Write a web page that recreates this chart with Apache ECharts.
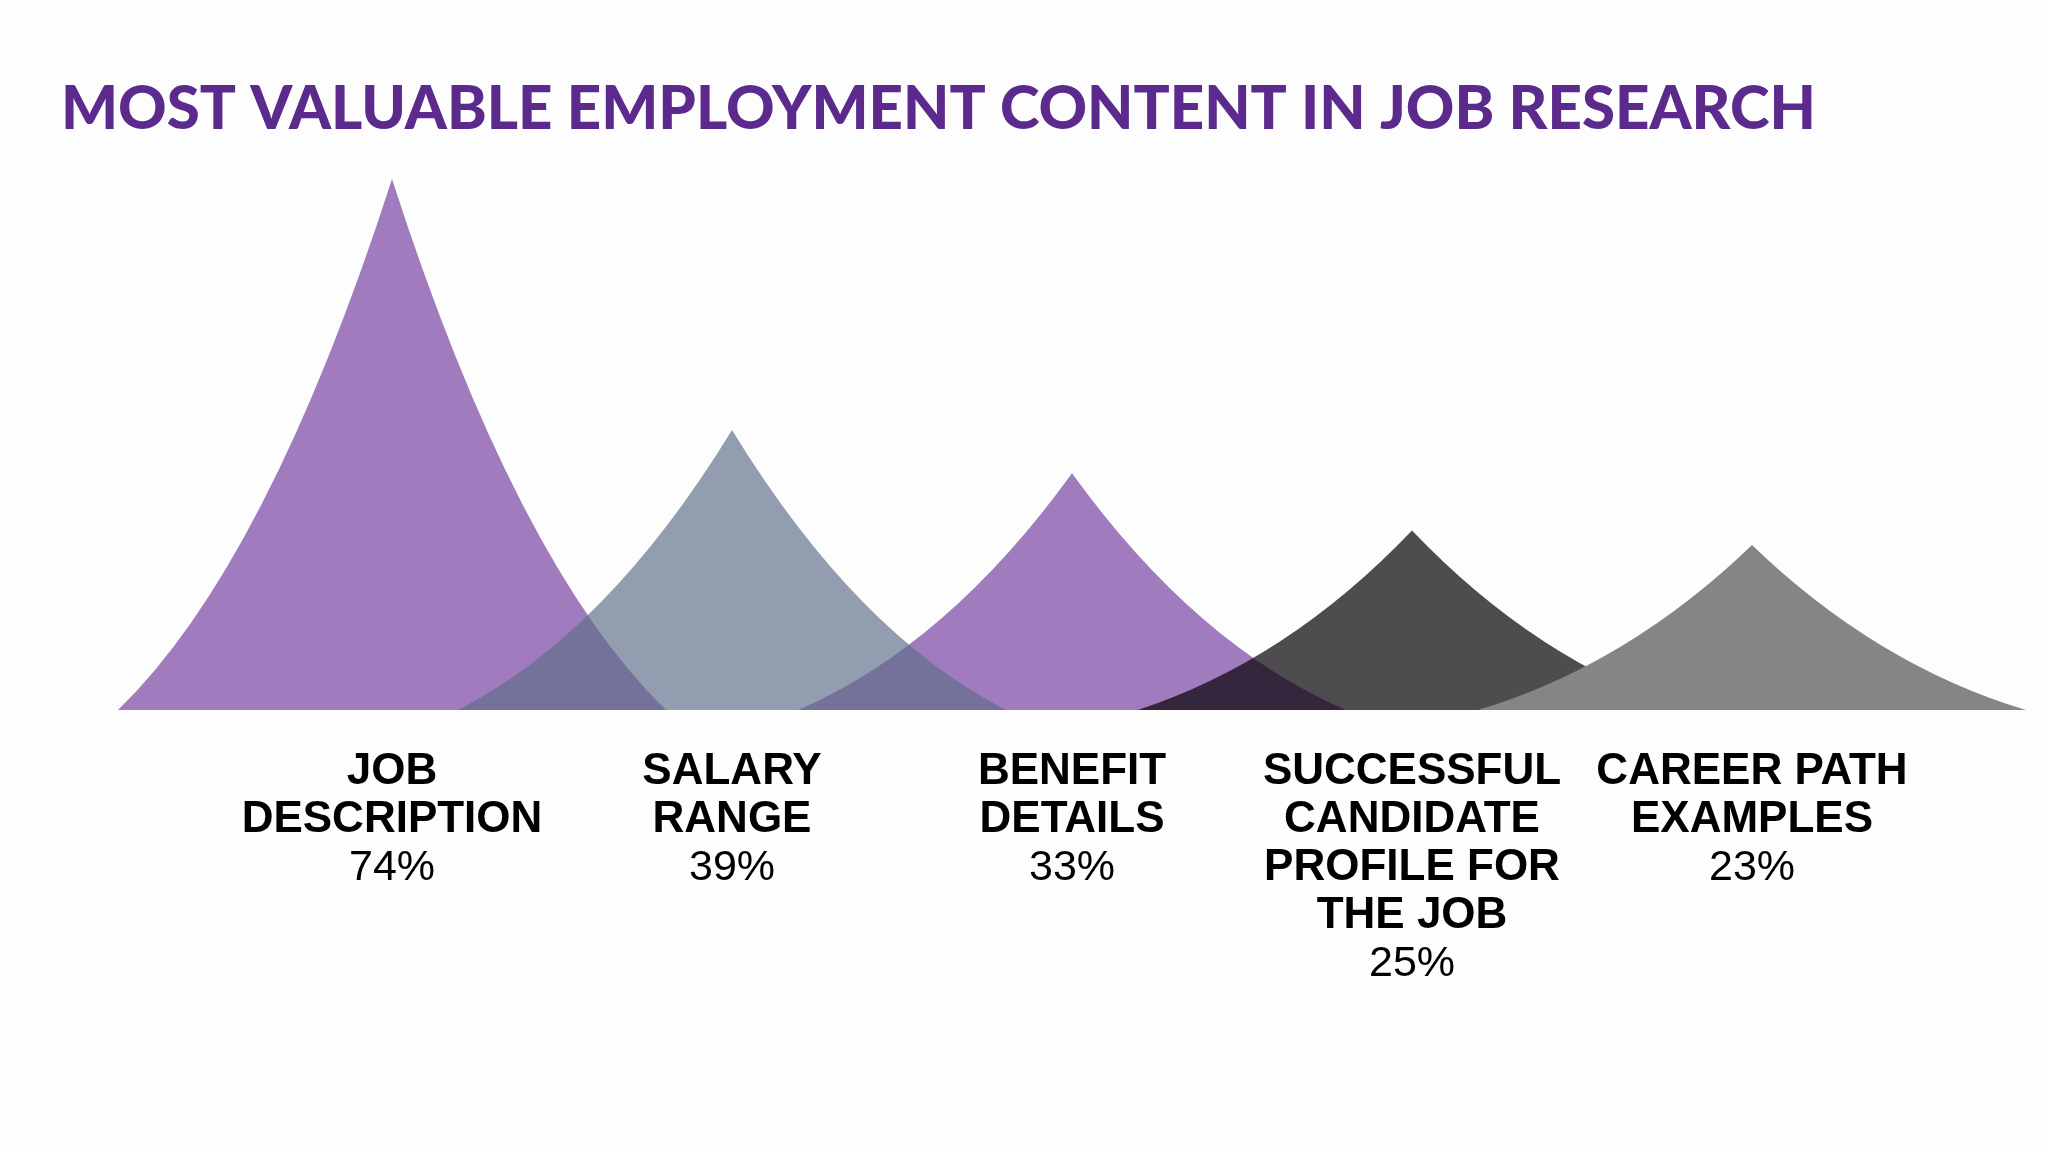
<!DOCTYPE html>
<html>
<head>
<meta charset="utf-8">
<script src="https://cdn.jsdelivr.net/npm/echarts@6/dist/echarts.min.js"></script>
<style>
html,body{margin:0;padding:0;background:#fdfdfd;}
#chart{width:2048px;height:1152px;}
</style>
</head>
<body>
<div id="chart"></div>
<script>
// ---- data ----
const titleText = 'MOST VALUABLE EMPLOYMENT CONTENT IN JOB RESEARCH';
const categories = [
  'JOB\nDESCRIPTION',
  'SALARY\nRANGE',
  'BENEFIT\nDETAILS',
  'SUCCESSFUL\nCANDIDATE\nPROFILE FOR\nTHE JOB',
  'CAREER PATH\nEXAMPLES'
];
const values = [74, 39, 33, 25, 23];

// ---- styles ----
const peakColors = ['#a07bbd', 'rgba(96,111,139,0.68)', '#a07bbd', 'rgba(7,3,8,0.71)', '#868487'];
const peakOrder = [1, 3, 2, 4, 5];          // drawing order (higher on top)
const peakBlend = ['source-over', 'source-over', 'source-over', 'source-over', 'darken'];
const peakPathData = 'M0,100 Q27.3,72.7 50,0 Q72.7,72.7 100,100 Z';
const peakWidth = 548;
const labelFont = '"Liberation Sans", Arial, Helvetica, sans-serif';

const chart = echarts.init(document.getElementById('chart'));

function renderPeak(params, api) {
  const idx = api.value(0);
  const base = api.coord([idx, 0]);
  const top = api.coord([idx, api.value(1)]);
  return {
    type: 'path',
    z2: peakOrder[params.dataIndex],
    shape: {
      pathData: peakPathData,
      layout: 'cover',
      x: base[0] - peakWidth / 2,
      y: top[1],
      width: peakWidth,
      height: base[1] - top[1]
    },
    style: {
      fill: peakColors[params.dataIndex],
      blend: peakBlend[params.dataIndex]
    }
  };
}

chart.setOption({
  backgroundColor: '#fdfdfd',
  animation: false,
  title: {
    text: titleText,
    left: 56,
    top: 75,
    textStyle: {
      fontFamily: 'Lato',
      fontWeight: 900,
      fontSize: 60,
      color: '#5b2a8c'
    }
  },
  grid: { left: 222, right: 126, top: 100, bottom: 442, containLabel: false },
  xAxis: {
    type: 'category',
    data: categories,
    axisLine: { show: false },
    axisTick: { show: false },
    axisLabel: {
      interval: 0,
      margin: 38,
      verticalAlign: 'top',
      formatter: function (val, idx) {
        const lines = val.split('\n').map(function (s) { return '{n|' + s + '}'; });
        return lines.join('\n') + '\n{p|' + values[idx] + '%}';
      },
      rich: {
        n: {
          fontFamily: labelFont,
          fontWeight: 'bold',
          fontSize: 44,
          lineHeight: 48,
          color: '#000000',
          align: 'center'
        },
        p: {
          fontFamily: labelFont,
          fontSize: 43,
          lineHeight: 48,
          color: '#000000',
          align: 'center'
        }
      }
    }
  },
  yAxis: {
    type: 'value',
    min: 0,
    max: 85,
    show: false,
    splitLine: { show: false }
  },
  series: [{
    type: 'custom',
    silent: true,
    renderItem: renderPeak,
    encode: { x: 0, y: 1 },
    data: values.map(function (v, i) { return [i, v]; })
  }]
});
</script>
</body>
</html>
